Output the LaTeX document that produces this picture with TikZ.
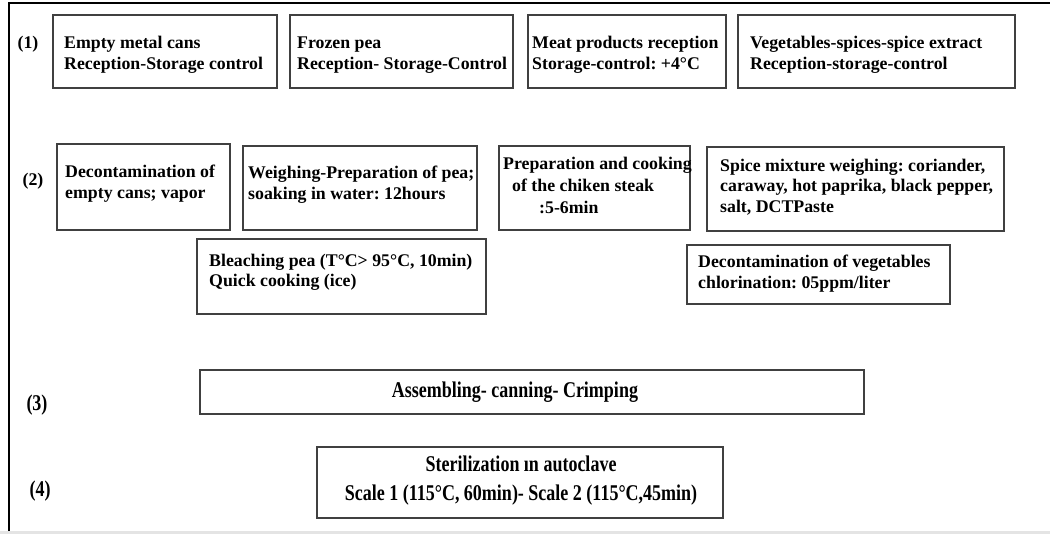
\documentclass[tikz,border=0pt]{standalone}
\usepackage{fontspec}
\setmainfont{Liberation Serif}
\usepackage{xcolor}
\usepackage{tikz}

\definecolor{boxgray}{HTML}{404040}
\definecolor{stripgray}{HTML}{E4E4E4}

\begin{document}
\frenchspacing
\begin{tikzpicture}[x = 1pt, y = -1pt,
		stage/.style = {draw = boxgray, line width = 1.6pt, anchor = north west, inner sep = 0pt},
		txt/.style = {anchor = west, align = left, inner sep = 0pt, font = \fontsize{17.8}{20.5}\selectfont\bfseries},
		tall/.style = {align = center, inner sep = 0pt, font = \fontsize{22.5}{29.5}\selectfont\bfseries}]
		\def\narrow#1{\scalebox{0.8}[1]{#1}}
		
		\useasboundingbox (0,0) rectangle (1050,534);
		\fill[stripgray] (0,531) rectangle (1050,534);
		\draw[line width = 2pt] (1050,3) -- (9,3) -- (9,531);
		
		\node[txt, anchor = center] (one) at (28,44) {(1)};
		\node[txt, anchor = center] (two) at (33,181) {(2)};
		\node[tall] (three) at (37,405) {\narrow{(3)}};
		\node[tall] (four) at (40,491) {\narrow{(4)}};
		
		\node[stage, minimum width = 224pt, minimum height = 73pt] (cans) at (52,14) {};
		\node[stage, minimum width = 223pt, minimum height = 73pt] (pea) at (289,14) {};
		\node[stage, minimum width = 198pt, minimum height = 73pt] (meat) at (527,14) {};
		\node[stage, minimum width = 277pt, minimum height = 73pt] (veg) at (737,14) {};
		
		\node[txt] (cansTxt) at (64,55) {Empty metal cans\\Reception-Storage control};
		\node[txt] (peaTxt) at (297,55) {Frozen pea\\Reception- Storage-Control};
		\node[txt] (meatTxt) at (532,55) {Meat products reception\\Storage-control: +4°C};
		\node[txt] (vegTxt) at (750,55) {Vegetables-spices-spice extract\\Reception-storage-control};
		
		\node[stage, minimum width = 173pt, minimum height = 86pt] (decans) at (56,143) {};
		\node[stage, minimum width = 234pt, minimum height = 84pt] (weigh) at (242,145) {};
		\node[stage, minimum width = 191pt, minimum height = 84pt] (steak) at (498,145) {};
		\node[stage, minimum width = 297pt, minimum height = 84pt] (spice) at (706,146) {};
		\node[stage, minimum width = 289pt, minimum height = 75pt] (bleach) at (196,238) {};
		\node[stage, minimum width = 263pt, minimum height = 59pt] (chlor) at (686,244) {};
		
		\node[txt] (decansTxt) at (65,183.5) {Decontamination of\\empty cans; vapor};
		\node[txt] (weighTxt) at (248,184.5) {Weighing-Preparation of pea;\\soaking in water: 12hours};
		\node[txt] (steakTxt) at (503,185.5) {Preparation and cooking\\[1.5pt]\hspace*{9pt}of the chiken steak\\[1.5pt]\hspace*{36pt}:5-6min};
		\node[txt] (spiceTxt) at (720,187) {Spice mixture weighing: coriander,\\caraway, hot paprika, black pepper,\\salt, DCTPaste};
		\node[txt] (bleachTxt) at (209,272.5) {Bleaching pea (T°C> 95°C, 10min)\\Quick cooking (ice)};
		\node[txt] (chlorTxt) at (698,273.5) {Decontamination of vegetables\\chlorination: 05ppm/liter};
		
		\node[stage, minimum width = 664pt, minimum height = 44pt] (crimp) at (199,369) {};
		\node[stage, minimum width = 406pt, minimum height = 71pt] (autoclave) at (316,446) {};
		
		\node[tall] (crimpTxt) at (515,392) {\narrow{Assembling- canning- Crimping}};
		\node[tall] (autoclaveTxt) at (521,480.5) {\narrow{Sterilization ın autoclave}\\\narrow{Scale 1 (115°C, 60min)- Scale 2 (115°C,45min)}};
	\end{tikzpicture}
\end{document}
